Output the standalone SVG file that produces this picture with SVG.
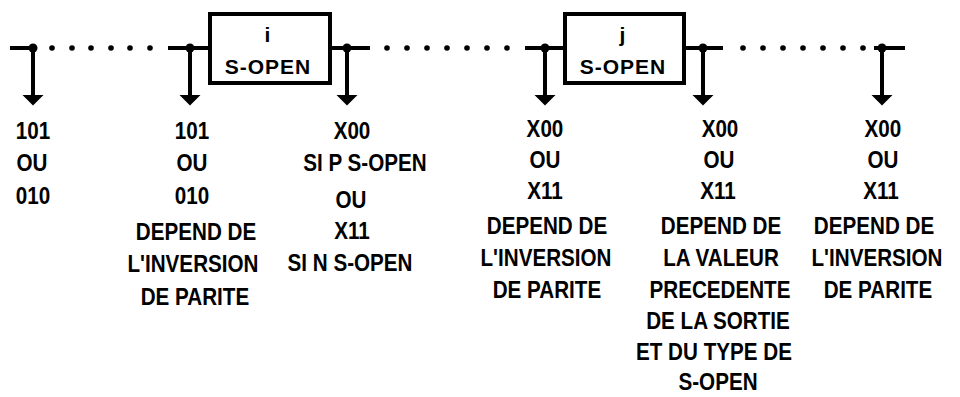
<svg xmlns="http://www.w3.org/2000/svg" xmlns:xlink="http://www.w3.org/1999/xlink" width="960" height="397" viewBox="0 0 960 397">
<style>
  text { font-family: "Liberation Sans", Arial, sans-serif; font-weight: bold; fill: #000; text-anchor: middle; }
  .lbl text { font-size: 24px; }
  .box { fill: #fff; stroke: #000; stroke-width: 4; }
  .bt { font-size: 21px; letter-spacing: 1px; }
  .wire { stroke: #000; stroke-width: 4; fill: none; }
  .dot { fill: #000; }
</style>
<defs>
  <g id="tap">
    <circle cx="0" cy="48" r="4.5" fill="#000"/>
    <line x1="0" y1="48" x2="0" y2="97" stroke="#000" stroke-width="4"/>
    <polygon points="-10.5,95 10.5,95 0,105.5" fill="#000"/>
  </g>
</defs>
<rect width="960" height="397" fill="#fff"/>

<g id="connectors">
  <line class="wire" x1="10" y1="48" x2="37" y2="48"/>
  <line class="wire" x1="168" y1="48" x2="210" y2="48"/>
  <line class="wire" x1="330" y1="48" x2="370" y2="48"/>
  <line class="wire" x1="525" y1="48" x2="565" y2="48"/>
  <line class="wire" x1="684" y1="48" x2="723" y2="48"/>
  <line class="wire" x1="874" y1="48" x2="905" y2="48"/>
  <g class="dot">
    <circle cx="52" cy="48" r="2.8"/><circle cx="72" cy="48" r="2.8"/><circle cx="91" cy="48" r="2.8"/>
    <circle cx="111" cy="48" r="2.8"/><circle cx="130" cy="48" r="2.8"/><circle cx="150" cy="48" r="2.8"/>
    <circle cx="387" cy="48" r="2.8"/><circle cx="407" cy="48" r="2.8"/><circle cx="427" cy="48" r="2.8"/>
    <circle cx="447" cy="48" r="2.8"/><circle cx="467" cy="48" r="2.8"/><circle cx="487" cy="48" r="2.8"/>
    <circle cx="507" cy="48" r="2.8"/>
    <circle cx="743" cy="48" r="2.8"/><circle cx="763" cy="48" r="2.8"/><circle cx="783" cy="48" r="2.8"/>
    <circle cx="803" cy="48" r="2.8"/><circle cx="823" cy="48" r="2.8"/><circle cx="843" cy="48" r="2.8"/>
    <circle cx="863" cy="48" r="2.8"/>
  </g>
  <use xlink:href="#tap" x="33"/>
  <use xlink:href="#tap" x="190"/>
  <use xlink:href="#tap" x="347"/>
  <use xlink:href="#tap" x="545"/>
  <use xlink:href="#tap" x="703"/>
  <use xlink:href="#tap" x="882"/>
</g>

<g id="node-i">
  <rect class="box" x="210" y="14" width="120" height="69"/>
  <text class="bt" x="268" y="42">i</text>
  <text class="bt" x="268" y="74">S-OPEN</text>
</g>
<g id="node-j">
  <rect class="box" x="565" y="14" width="119" height="69"/>
  <text class="bt" x="623" y="42">j</text>
  <text class="bt" x="623" y="74">S-OPEN</text>
</g>

<g class="lbl" transform="scale(0.86 1)">
<g id="label-1">
  <text x="38.4" y="139">101</text>
  <text x="37.2" y="171">OU</text>
  <text x="38.4" y="204">010</text>
</g>
<g id="label-2">
  <text x="223.3" y="139">101</text>
  <text x="223.3" y="171">OU</text>
  <text x="223.3" y="204">010</text>
  <text x="227.9" y="240">DEPEND DE</text>
  <text x="224.4" y="272">L'INVERSION</text>
  <text x="226.7" y="305">DE PARITE</text>
</g>
<g id="label-3">
  <text x="409.3" y="139">X00</text>
  <text x="424.4" y="171">SI P S-OPEN</text>
  <text x="408.1" y="208">OU</text>
  <text x="409.3" y="239">X11</text>
  <text x="407" y="271">SI N S-OPEN</text>
</g>
<g id="label-4">
  <text x="633.7" y="137">X00</text>
  <text x="633.7" y="168">OU</text>
  <text x="633.7" y="199">X11</text>
  <text x="636" y="234">DEPEND DE</text>
  <text x="634.9" y="266">L'INVERSION</text>
  <text x="636" y="298">DE PARITE</text>
</g>
<g id="label-5">
  <text x="837.2" y="137">X00</text>
  <text x="836" y="168">OU</text>
  <text x="834.9" y="199">X11</text>
  <text x="838.4" y="234">DEPEND DE</text>
  <text x="838.4" y="266">LA VALEUR</text>
  <text x="837.2" y="298">PRECEDENTE</text>
  <text x="834.9" y="329">DE LA SORTIE</text>
  <text x="830.2" y="360">ET DU TYPE DE</text>
  <text x="834.9" y="390">S-OPEN</text>
</g>
<g id="label-6">
  <text x="1026.7" y="137">X00</text>
  <text x="1026.7" y="168">OU</text>
  <text x="1024.4" y="199">X11</text>
  <text x="1016.3" y="234">DEPEND DE</text>
  <text x="1019.8" y="266">L'INVERSION</text>
  <text x="1020.9" y="298">DE PARITE</text>
</g>
</g>
</svg>
